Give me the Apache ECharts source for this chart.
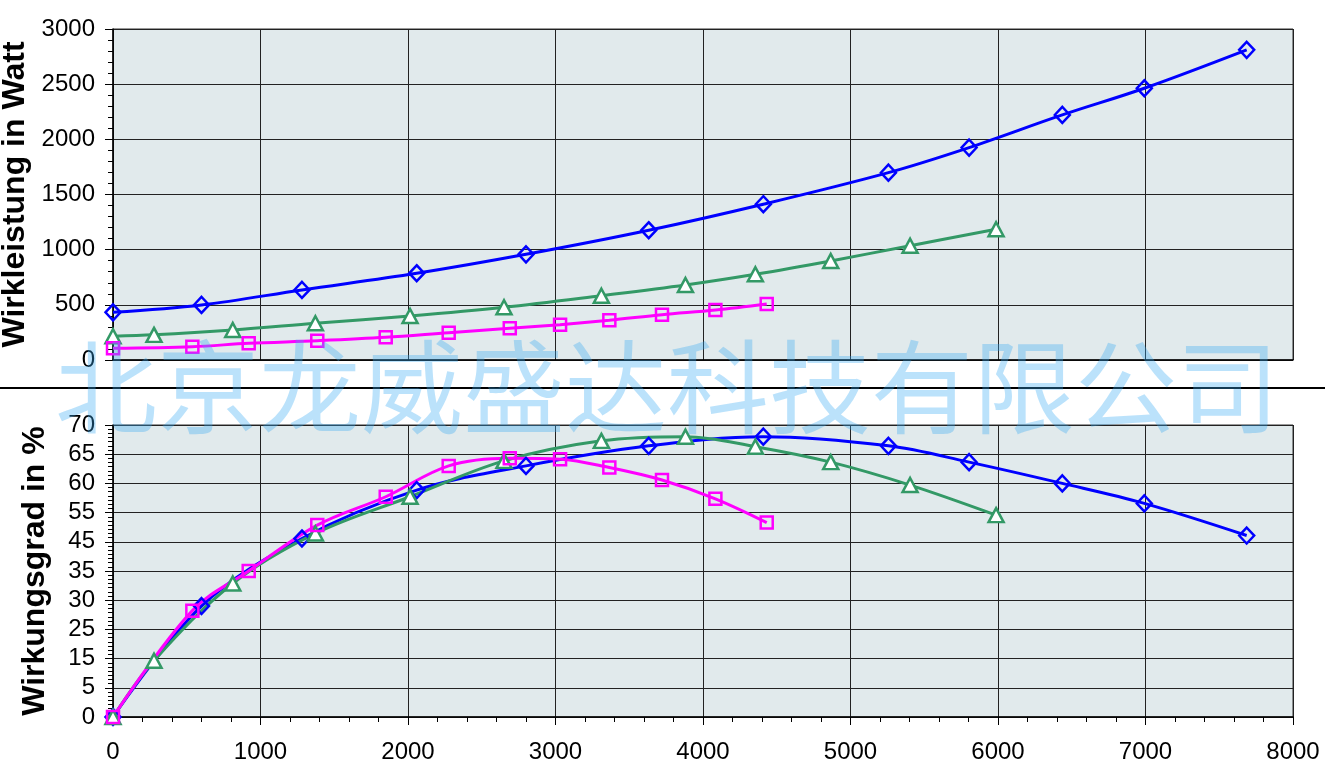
<!DOCTYPE html>
<html>
<head>
<meta charset="utf-8">
<script src="https://cdn.jsdelivr.net/npm/echarts@6/dist/echarts.min.js"></script>
<style>
html,body{margin:0;padding:0;background:#fff;}
#chart{width:1325px;height:777px;}
</style>
</head>
<body>
<div id="chart"></div>
<script>
// Drehzahl (x) values per series
const blueX  = [0, 600, 1281, 2059, 2800, 3632, 4409, 5257, 5804, 6436, 6992, 7686];
const greenX = [0, 278, 812, 1372, 2014, 2651, 3311, 3881, 4355, 4866, 5404, 5987];
const pinkX  = [0, 538, 920, 1385, 1849, 2276, 2690, 3031, 3365, 3722, 4084, 4432];

// Wirkleistung in Watt
const bluePower  = [432, 499, 635, 786, 958, 1176, 1412, 1698, 1925, 2221, 2463, 2811];
const greenPower = [215, 228, 272, 333, 399, 478, 583, 680, 777, 898, 1036, 1185];
const pinkPower  = [106, 121, 151, 175, 206, 248, 287, 320, 360, 411, 453, 508];

// Wirkungsgrad (position on the 0..70 axis scale)
const blueEff  = [0, 26.6, 42.8, 54.4, 60.2, 65.0, 67.2, 65.0, 61.1, 56.0, 51.2, 43.5];
const greenEff = [0, 13.5, 32.0, 44.0, 52.8, 61.4, 66.2, 67.2, 64.8, 61.1, 55.6, 48.4];
const pinkEff  = [0, 25.5, 35.0, 46.0, 52.8, 60.2, 62.0, 61.8, 59.8, 56.8, 52.3, 46.6];

// Tick labels as printed on the lower value axis
const effTickLabels = ['0', '5', '15', '25', '30', '35', '45', '55', '60', '65', '70'];

const pairs = (xs, ys) => xs.map((v, i) => [v, ys[i]]);

const FONT = '"Liberation Sans", Arial, sans-serif';
const BLUE = '#0000ff', GREEN = '#339966', PINK = '#ff00ff';

const chart = echarts.init(document.getElementById('chart'), null, {renderer: 'canvas'});

function mkSeries(name, data, xi, yi, color, symbol, fill, size, z) {
  return {
    name, type: 'line', xAxisIndex: xi, yAxisIndex: yi, data,
    smooth: 0.35, symbol, symbolSize: size, z,
    lineStyle: {color, width: 3},
    itemStyle: {color: fill, borderColor: color, borderWidth: 2.5},
    emphasis: {disabled: true}, animation: false
  };
}

const plain = v => String(v);

const yAxisCommon = {
  axisLine: {show: true, lineStyle: {color: '#000', width: 1.5}},
  axisTick: {show: true, length: 8, lineStyle: {color: '#000'}},
  minorTick: {show: true, length: 5, lineStyle: {color: '#000'}},
  splitLine: {show: true, lineStyle: {color: '#222', width: 1}},
  axisLabel: {color: '#000', fontSize: 24, fontFamily: FONT, margin: 18, formatter: plain},
  nameLocation: 'middle',
  nameTextStyle: {color: '#000', fontSize: 32, fontWeight: 'bold', fontFamily: FONT}
};

const option = {
  backgroundColor: '#fff',
  animation: false,
  grid: [
    {left: 113, right: 32, top: 29, height: 331, show: true, outerBoundsMode: 'none', containLabel: false,
     backgroundColor: '#e1eaec', borderColor: '#333', borderWidth: 1},
    {left: 113, right: 32, top: 425, height: 292, show: true, outerBoundsMode: 'none', containLabel: false,
     backgroundColor: '#e1eaec', borderColor: '#333', borderWidth: 1}
  ],
  xAxis: [
    {type: 'value', gridIndex: 0, min: 0, max: 8000, interval: 1000,
     axisLine: {show: true, lineStyle: {color: '#000', width: 1.5}},
     axisTick: {show: false}, axisLabel: {show: false},
     splitLine: {show: true, lineStyle: {color: '#222', width: 1}}},
    {type: 'value', gridIndex: 1, min: 0, max: 8000, interval: 1000,
     axisLine: {show: true, onZero: false, lineStyle: {color: '#000', width: 1.5}},
     axisTick: {show: true, length: 8, lineStyle: {color: '#000'}},
     minorTick: {show: true, splitNumber: 5, length: 5, lineStyle: {color: '#000'}},
     splitLine: {show: true, lineStyle: {color: '#222', width: 1}},
     axisLabel: {color: '#000', fontSize: 24, fontFamily: FONT, margin: 23, formatter: plain}}
  ],
  yAxis: [
    Object.assign({}, yAxisCommon, {
      type: 'value', gridIndex: 0, min: 0, max: 3000, interval: 500,
      minorTick: Object.assign({}, yAxisCommon.minorTick, {splitNumber: 5}),
      name: 'Wirkleistung in Watt', nameGap: 72
    }),
    Object.assign({}, yAxisCommon, {
      type: 'value', gridIndex: 1, min: 0, max: 70, interval: 7,
      minorTick: Object.assign({}, yAxisCommon.minorTick, {splitNumber: 7}),
      axisLabel: Object.assign({}, yAxisCommon.axisLabel, {
        formatter: v => effTickLabels[Math.round(v / 7)]
      }),
      name: 'Wirkungsgrad in %', nameGap: 62
    })
  ],
  series: [
    mkSeries('blau Leistung', pairs(blueX, bluePower), 0, 0, BLUE, 'diamond', 'rgba(0,0,0,0)', [15, 16], 3),
    mkSeries('grün Leistung', pairs(greenX, greenPower), 0, 0, GREEN, 'triangle', '#ffffff', [15, 14], 3),
    mkSeries('pink Leistung', pairs(pinkX, pinkPower), 0, 0, PINK, 'rect', 'rgba(0,0,0,0)', 12, 3),
    mkSeries('blau Wirkungsgrad', pairs(blueX, blueEff), 1, 1, BLUE, 'diamond', 'rgba(0,0,0,0)', [15, 16], 3),
    mkSeries('grün Wirkungsgrad', pairs(greenX, greenEff), 1, 1, GREEN, 'triangle', '#ffffff', [15, 14], 3),
    mkSeries('pink Wirkungsgrad', pairs(pinkX, pinkEff), 1, 1, PINK, 'rect', 'rgba(0,0,0,0)', 12, 3)
  ],
  graphic: [
    {type: 'line', z: 50, shape: {x1: 0, y1: 388, x2: 1325, y2: 388}, style: {stroke: '#000', lineWidth: 2}},
    {type: 'text', z: 100, x: 667, y: 387,
     style: {text: '北京龙威盛达科技有限公司', font: '102px "Noto Sans CJK SC"',
             fill: 'rgba(57,171,243,0.34)', align: 'center', verticalAlign: 'middle'}}
  ]
};
chart.setOption(option);
</script>
</body>
</html>
